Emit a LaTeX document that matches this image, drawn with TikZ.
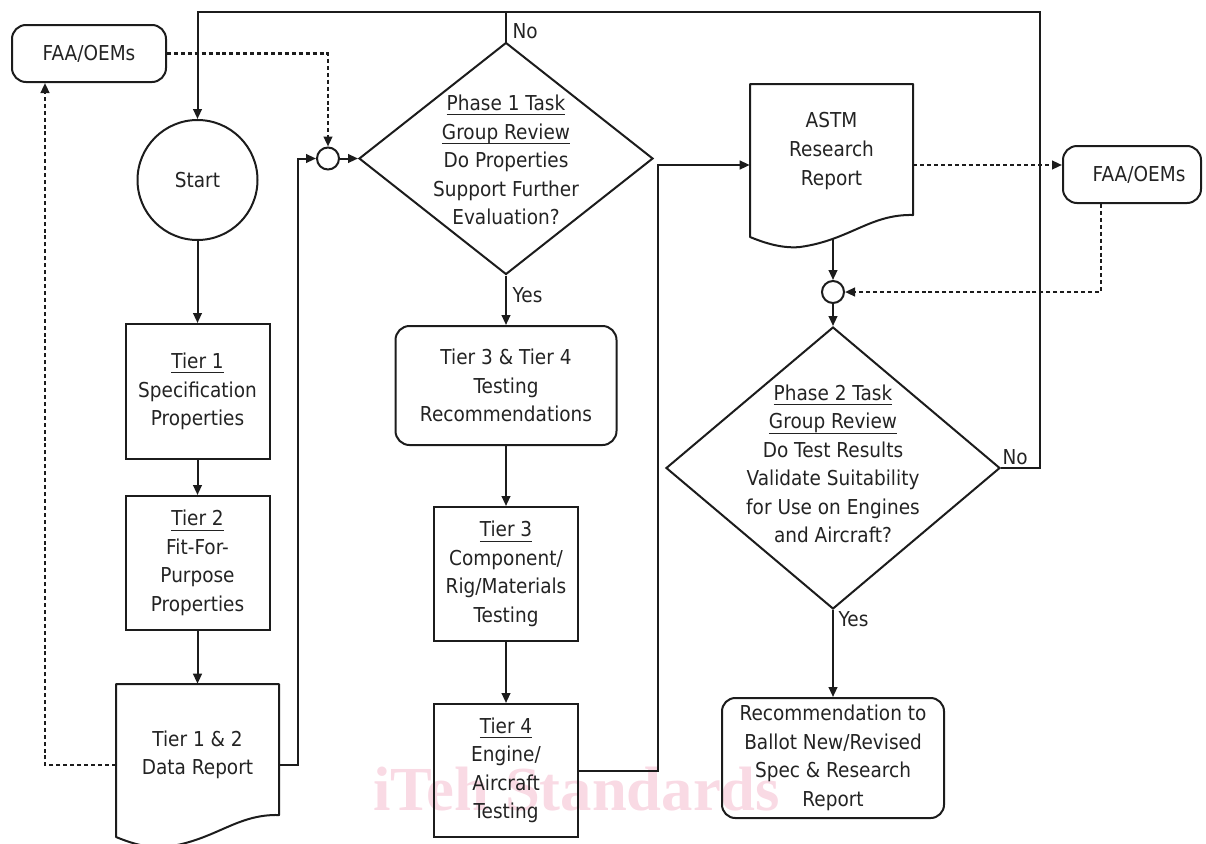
\documentclass[tikz,border=0pt]{standalone}
\usepackage{fontspec}
\setmainfont{DejaVu Sans}[FakeStretch=0.9]
\newfontfamily\wmfont{Liberation Serif}
\usetikzlibrary{arrows.meta,shapes.geometric,calc}
\definecolor{ln}{RGB}{28,28,28}
\definecolor{tx}{RGB}{35,35,35}
\definecolor{wm}{RGB}{249,218,228}
\newcommand\ulx[1]{\underline{\raisebox{0pt}[\height][1.6pt]{#1}}}
\newcommand\docpath[2]{\draw[ln,line width=1.5pt,line join=round] (#1,#2) -- ({#1+163},#2) -- ({#1+163},{#2+131}) .. controls ({#1+120},{#2+130}) and ({#1+100},{#2+156}) .. ({#1+50},{#2+163}) .. controls ({#1+30},{#2+165}) and ({#1+10},{#2+157}) .. (#1,{#2+153}) -- cycle;}
\begin{document}
\begin{tikzpicture}[x=0.75pt,y=-0.75pt,
  every node/.style={text=tx, font=\fontsize{15.4pt}{21.4pt}\selectfont},
  box/.style={draw=ln, line width=1.5pt, rectangle, align=center, inner sep=0pt},
  rbox/.style={box, rounded corners=10.5pt},
  circ/.style={draw=ln, line width=1.5pt, circle, inner sep=0pt},
  dia/.style={draw=ln, line width=1.5pt, diamond, inner sep=0pt},
  docn/.style={rectangle, inner sep=0pt, minimum width=122.25pt, minimum height=121.5pt},
  txt/.style={align=center, inner sep=0pt},
  lab/.style={anchor=west, inner sep=1pt},
  sl/.style={draw=ln, line width=1.5pt},
  dl/.style={draw=ln, line width=1.6pt, dash pattern=on 3pt off 2.2pt},
  arr/.style={-{Triangle[length=7.5pt,width=6.5pt]}},
  wmk/.style={text=wm, inner sep=0pt, font=\wmfont\bfseries\fontsize{47pt}{50pt}\selectfont}
]
\useasboundingbox (0,0) rectangle (1206,843);
% watermark
\node[wmk, anchor=base west] (wmark) at (373,810) {iTeh Standards};

% left column
\node[rbox, minimum width=115.5pt, minimum height=42.75pt] (fl) at (89,53.5) {FAA/OEMs};
\node[circ, minimum size=90pt] (s) at (197.5,180) {Start};
\node[box, minimum width=108pt, minimum height=101.25pt] (t1) at (197.5,391.5) {\ulx{Tier 1}\\Specification\\Properties};
\node[box, minimum width=108pt, minimum height=100.5pt] (t2) at (197.5,563) {\ulx{Tier 2}\\Fit-For-\\Purpose\\Properties};
\docpath{116}{684}
\node[docn] (doc1) at (197.5,765) {};
\node[txt] (doc1t) at (197.5,755) {Tier 1 \& 2\\Data Report};

% middle column
\node[circ, minimum size=16.5pt] (c1) at (328,158.5) {};
\node[dia, minimum width=220.5pt, minimum height=174pt] (d1) at (506,158.5) {};
\node[txt] (d1t) at (506,160) {\ulx{Phase 1 Task}\\\ulx{Group Review}\\Do Properties\\Support Further\\Evaluation?};
\node[rbox, minimum width=165.75pt, minimum height=89.25pt] (t34) at (506,385.5) {Tier 3 \& Tier 4\\Testing\\Recommendations};
\node[box, minimum width=108pt, minimum height=100.5pt] (t3) at (506,574) {\ulx{Tier 3}\\Component/\\Rig/Materials\\Testing};
\node[box, minimum width=108pt, minimum height=99.75pt] (t4) at (506,770.5) {\ulx{Tier 4}\\Engine/\\Aircraft\\Testing};

% right column
\docpath{750}{84}
\node[docn] (astm) at (831.5,165) {};
\node[txt] (astmt) at (831.5,151) {ASTM\\Research\\Report};
\node[rbox, minimum width=103.5pt, minimum height=42.75pt] (fr) at (1132,174.5) {\hspace*{10.5pt}FAA/OEMs};
\node[circ, minimum size=16.5pt] (c2) at (833,292) {};
\node[dia, minimum width=250.5pt, minimum height=211.5pt] (d2) at (833,468) {};
\node[txt] (d2t) at (833,464) {\ulx{Phase 2 Task}\\\ulx{Group Review}\\Do Test Results\\Validate Suitability\\for Use on Engines\\and Aircraft?};
\node[rbox, rounded corners=10pt, minimum width=166.5pt, minimum height=90pt] (rec) at (833,758) {Recommendation to\\Ballot New/Revised\\Spec \& Research\\Report};

% labels
\node[lab] (no1) at (511,31) {No};
\node[lab] (yes1) at (511,295) {Yes};
\node[lab] (no2) at (1001,457) {No};
\node[lab] (yes2) at (837,619) {Yes};

\coordinate (topR) at (1040,12);
\coordinate (astmb) at (833,239);

% connectors
\draw[dl,arr] (fl.east) -| (c1.north);
\draw[dl,arr] (doc1.west) -| ([xshift=25.5pt]fl.south west);
\draw[sl,arr] (s.south) -- (t1.north);
\draw[sl,arr] (t1.south) -- (t2.north);
\draw[sl,arr] (t2.south) -- (doc1.north);
\draw[sl,arr] (doc1.east) -- ++(19,0) |- (c1.west);
\draw[sl,arr] (c1.east) -- (d1.west);
\draw[sl] (d1.north) -- (d1.north |- topR);
\draw[sl,arr] (d1.south) -- (t34.north);
\draw[sl,arr] (t34.south) -- (t3.north);
\draw[sl,arr] (t3.south) -- (t4.north);
\draw[sl,arr] (t4.east) -- ++(79,0) |- (astm.west);
\draw[dl,arr] (astm.east) -- (astm.east -| fr.west);
\draw[sl,arr] (astmb) -- (c2.north);
\draw[dl,arr] ([xshift=29.25pt]fr.south west) |- (c2.east);
\draw[sl,arr] (c2.south) -- (d2.north);
\draw[sl,arr] (d2.east) -| (topR) -| (s.north);
\draw[sl,arr] (d2.south) -- (rec.north);
\end{tikzpicture}
\end{document}
